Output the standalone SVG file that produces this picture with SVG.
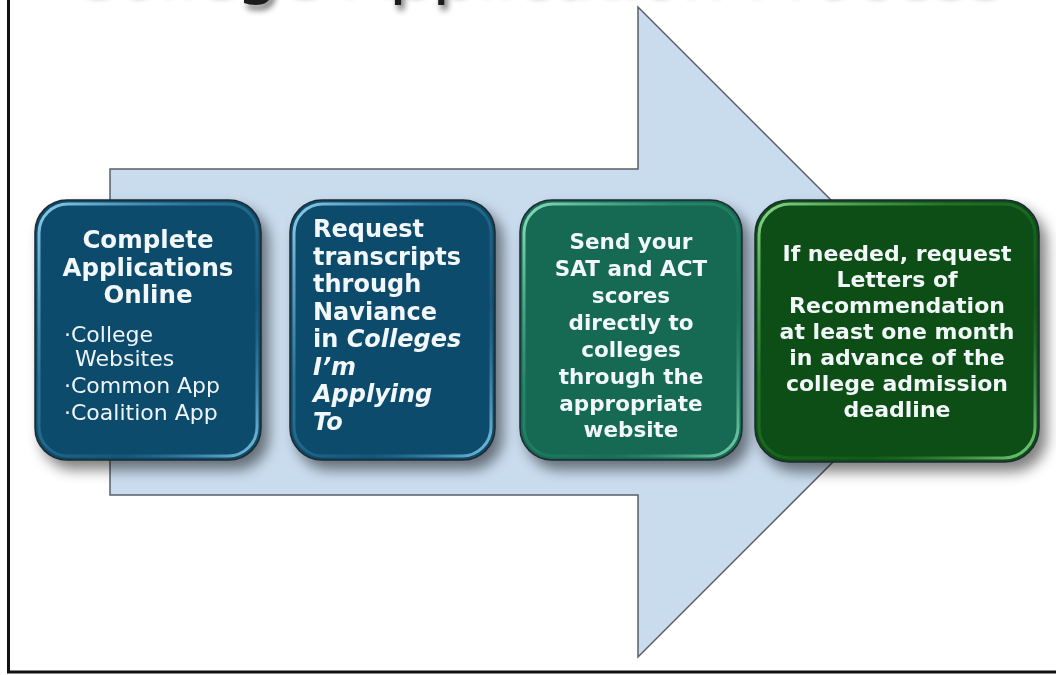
<svg xmlns="http://www.w3.org/2000/svg" width="1056" height="675" viewBox="0 0 1056 675">
<defs>
<style>
.title{font-family:"DejaVu Sans",Verdana,sans-serif;font-size:68px;fill:#1e1e1e}
.hd{font-family:"DejaVu Sans",Verdana,sans-serif;font-weight:bold;fill:#f2f7f9}
.bl{font-family:"DejaVu Sans",Verdana,sans-serif;font-size:22px;fill:#eef5f8}
.box{stroke:#1c2a30;stroke-width:1.5}
.rim{fill:none;stroke-width:3}
</style>
<filter id="shadow" x="-20%" y="-20%" width="150%" height="150%">
<feGaussianBlur in="SourceAlpha" stdDeviation="7"/>
<feOffset dx="7" dy="9" result="b"/>
<feComponentTransfer><feFuncA type="linear" slope="0.5"/></feComponentTransfer>
<feMerge><feMergeNode/><feMergeNode in="SourceGraphic"/></feMerge>
</filter>
<filter id="tshadow" x="-5%" y="-50%" width="110%" height="200%">
<feGaussianBlur in="SourceAlpha" stdDeviation="3"/>
<feOffset dx="3" dy="5"/>
<feComponentTransfer><feFuncA type="linear" slope="0.6"/></feComponentTransfer>
<feMerge><feMergeNode/><feMergeNode in="SourceGraphic"/></feMerge>
</filter>
<linearGradient id="rimBlue" x1="0" y1="0" x2="1" y2="1">
<stop offset="0" stop-color="#8fd0ec"/>
<stop offset="0.35" stop-color="#3f8fb3" stop-opacity="0.6"/>
<stop offset="0.7" stop-color="#1e6a8c" stop-opacity="0.4"/>
<stop offset="1" stop-color="#7cc3e2"/>
</linearGradient>
<linearGradient id="rimTeal" x1="0" y1="0" x2="1" y2="1">
<stop offset="0" stop-color="#8fe0bf"/>
<stop offset="0.35" stop-color="#3a9a78" stop-opacity="0.6"/>
<stop offset="0.7" stop-color="#1f7a5c" stop-opacity="0.4"/>
<stop offset="1" stop-color="#7dd2b0"/>
</linearGradient>
<linearGradient id="rimGreen" x1="0" y1="0" x2="1" y2="1">
<stop offset="0" stop-color="#8cd88f"/>
<stop offset="0.35" stop-color="#2f8a36" stop-opacity="0.6"/>
<stop offset="0.7" stop-color="#1d6a22" stop-opacity="0.4"/>
<stop offset="1" stop-color="#7ccf80"/>
</linearGradient>
</defs>

<rect x="0" y="0" width="1056" height="675" fill="#ffffff"/>

<text class="title" x="67" y="-9" filter="url(#tshadow)">College Application Process</text>

<g id="process-arrow">
<path d="M110,169 H638 V7 L963,332 L638,657 V495 H110 Z" fill="#c9dcee" stroke="#5a5f66" stroke-width="1.5" stroke-linejoin="miter"/>
</g>

<g id="connectors"></g>

<g id="node-1" filter="url(#shadow)">
<rect class="box" x="35" y="200" width="226" height="260" rx="32" fill="#0e4b6c"/>
<rect class="rim" x="39" y="204" width="218" height="252" rx="29" stroke="url(#rimBlue)"/>
<text class="hd" font-size="24.5" text-anchor="middle"><tspan x="148" y="248">Complete</tspan><tspan x="148" y="276">Applications</tspan><tspan x="148" y="303">Online</tspan></text>
<text class="bl"><tspan x="64" y="342">·College</tspan><tspan x="75" y="366">Websites</tspan><tspan x="64" y="393">·Common App</tspan><tspan x="64" y="420">·Coalition App</tspan></text>
</g>

<g id="node-2" filter="url(#shadow)">
<rect class="box" x="290" y="200" width="205" height="260" rx="32" fill="#0e4b6c"/>
<rect class="rim" x="294" y="204" width="197" height="252" rx="29" stroke="url(#rimBlue)"/>
<text class="hd" font-size="24"><tspan x="313" y="237">Request</tspan><tspan x="313" y="265">transcripts</tspan><tspan x="313" y="292">through</tspan><tspan x="313" y="320">Naviance</tspan><tspan x="313" y="347">in <tspan font-style="italic">Colleges</tspan></tspan><tspan x="313" y="375" font-style="italic">I’m</tspan><tspan x="313" y="402" font-style="italic">Applying</tspan><tspan x="313" y="430" font-style="italic">To</tspan></text>
</g>

<g id="node-3" filter="url(#shadow)">
<rect class="box" x="520" y="200" width="222" height="260" rx="32" fill="#136a52"/>
<rect class="rim" x="524" y="204" width="214" height="252" rx="29" stroke="url(#rimTeal)"/>
<text class="hd" font-size="21.5" text-anchor="middle"><tspan x="631" y="249">Send your</tspan><tspan x="631" y="276">SAT and ACT</tspan><tspan x="631" y="303">scores</tspan><tspan x="631" y="330">directly to</tspan><tspan x="631" y="357">colleges</tspan><tspan x="631" y="384">through the</tspan><tspan x="631" y="411">appropriate</tspan><tspan x="631" y="437">website</tspan></text>
</g>

<g id="node-4" filter="url(#shadow)">
<rect class="box" x="755" y="200" width="284" height="262" rx="34" fill="#0d4d14"/>
<rect class="rim" x="759" y="204" width="276" height="254" rx="31" stroke="url(#rimGreen)"/>
<text class="hd" font-size="22" text-anchor="middle"><tspan x="897" y="261">If needed, request</tspan><tspan x="897" y="287">Letters of</tspan><tspan x="897" y="313">Recommendation</tspan><tspan x="897" y="339">at least one month</tspan><tspan x="897" y="365">in advance of the</tspan><tspan x="897" y="391">college admission</tspan><tspan x="897" y="417">deadline</tspan></text>
</g>

<g id="frame">
<line x1="8.5" y1="0" x2="8.5" y2="673" stroke="#111" stroke-width="3"/>
<line x1="7" y1="672" x2="1056" y2="672" stroke="#111" stroke-width="3"/>
</g>
</svg>
